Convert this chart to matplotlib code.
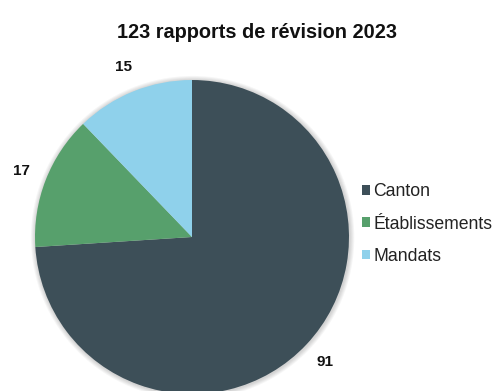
import matplotlib
matplotlib.use("Agg")
import matplotlib.pyplot as plt
from matplotlib.patches import Circle

# Revision reports by category, 2023
categories = ["Canton", "Établissements", "Mandats"]
counts = [91, 17, 15]
colors = ["#3d4f58", "#57a06c", "#8fd1eb"]
title = f"{sum(counts)} rapports de révision 2023"

plt.rcParams["font.family"] = ["Liberation Sans", "DejaVu Sans"]

W, H = 497, 391
fig = plt.figure(figsize=(W / 100, H / 100), dpi=100)
fig.patch.set_facecolor("white")

# pie axes: centre at (192, 237) px, radius 157 px
cx, cy, r = 192, 237, 157
ax = fig.add_axes([(cx - r) / W, (H - cy - r) / H, 2 * r / W, 2 * r / H])

# soft halo around the pie
for k in range(1, 6):
    ax.add_patch(Circle((0.004, -0.004), 1 + 0.006 * k, facecolor="#000000",
                        alpha=0.035, edgecolor="none", zorder=0, clip_on=False))

wedges, texts = ax.pie(
    counts,
    colors=colors,
    startangle=90,
    counterclock=False,
    labels=[str(v) for v in counts],
    labeldistance=1.165,
    textprops=dict(fontsize=11, fontweight="bold", color="#111111"),
    wedgeprops=dict(linewidth=0, zorder=2),
)
for t in texts:
    t.set_horizontalalignment("center")
    t.set_verticalalignment("center")
    t.set_clip_on(False)
ax.set_xlim(-1, 1)
ax.set_ylim(-1, 1)
ax.set_aspect("equal")
ax.axis("off")

fig.text(257 / W, 1 - 33 / H, title, ha="center", va="center",
         fontsize=14.3, fontweight="bold", color="#111111")

leg = fig.legend(
    wedges, categories,
    loc="center left", bbox_to_anchor=(362 / W, 1 - 224 / H),
    frameon=False, fontsize=12.7,
    handlelength=0.45, handleheight=0.45, handletextpad=0.2,
    labelspacing=0.86, borderpad=0, borderaxespad=0,
)
for t in leg.get_texts():
    t.set_color("#222222")

fig.savefig("out.png", dpi=100, facecolor="white")
